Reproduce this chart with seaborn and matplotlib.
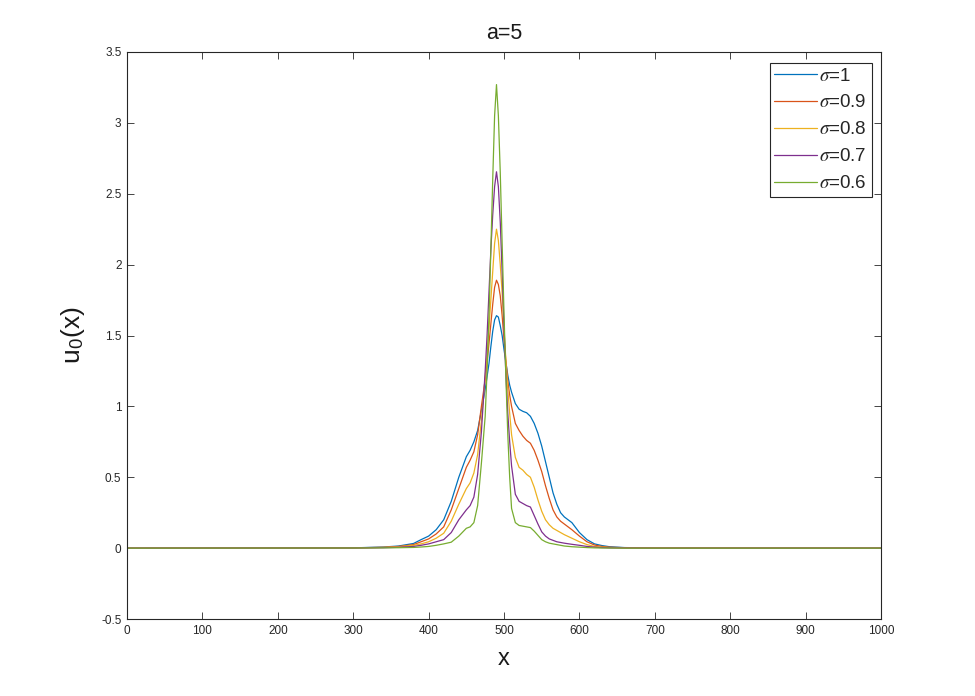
import matplotlib
matplotlib.use("Agg")
import matplotlib.pyplot as plt
import seaborn as sns
import pandas as pd

# ---- data ----
x_vals = [0, 300, 340, 360, 380, 390, 400, 410, 420, 430, 440, 450, 455, 460, 465,
          470, 475, 477.5, 480, 482.5, 485, 487.5, 490, 492.5, 495, 497.5, 500, 502.5,
          505, 507.5, 510, 515, 520, 525, 530, 535, 540,
          545, 550, 555, 560, 565, 570, 575, 580, 590, 600, 610, 620, 630, 640, 660,
          700, 1000]

u_s10 = [0, 0.002, 0.008, 0.015, 0.033, 0.06, 0.085, 0.13, 0.20, 0.33, 0.50, 0.645, 0.69, 0.75, 0.83,
         0.97, 1.12, 1.21, 1.30, 1.42, 1.53, 1.61, 1.64, 1.63, 1.57, 1.50, 1.40, 1.31,
         1.22, 1.15, 1.10, 1.02, 0.98, 0.965, 0.955, 0.93, 0.88,
         0.81, 0.72, 0.61, 0.50, 0.39, 0.31, 0.25, 0.22, 0.18, 0.11, 0.06, 0.03, 0.018, 0.01, 0.004,
         0.001, 0]
u_s09 = [0, 0.002, 0.006, 0.012, 0.025, 0.045, 0.065, 0.10, 0.15, 0.27, 0.42, 0.57, 0.62, 0.68, 0.80,
         1.00, 1.19, 1.31, 1.44, 1.58, 1.72, 1.84, 1.89, 1.86, 1.78, 1.64, 1.47, 1.32,
         1.18, 1.08, 1.00, 0.88, 0.83, 0.79, 0.76, 0.74, 0.69,
         0.62, 0.54, 0.44, 0.35, 0.27, 0.22, 0.19, 0.17, 0.13, 0.085, 0.045, 0.022, 0.012, 0.007, 0.003,
         0.001, 0]
u_s08 = [0, 0.001, 0.005, 0.01, 0.02, 0.03, 0.045, 0.07, 0.105, 0.19, 0.31, 0.42, 0.46, 0.53, 0.66,
         0.90, 1.20, 1.37, 1.55, 1.75, 1.95, 2.15, 2.25, 2.17, 2.00, 1.80, 1.55, 1.32,
         1.12, 0.95, 0.80, 0.64, 0.57, 0.55, 0.52, 0.50, 0.43,
         0.34, 0.26, 0.20, 0.165, 0.14, 0.125, 0.11, 0.095, 0.07, 0.045, 0.025, 0.012, 0.007, 0.004, 0.002,
         0.001, 0]
u_s07 = [0, 0.001, 0.003, 0.006, 0.012, 0.02, 0.03, 0.045, 0.06, 0.11, 0.20, 0.27, 0.30, 0.36, 0.52,
         0.82, 1.25, 1.50, 1.80, 2.10, 2.35, 2.55, 2.655, 2.55, 2.30, 1.95, 1.55, 1.22,
         0.95, 0.75, 0.58, 0.38, 0.33, 0.315, 0.30, 0.29, 0.23,
         0.17, 0.115, 0.085, 0.065, 0.055, 0.045, 0.04, 0.035, 0.027, 0.02, 0.012, 0.007, 0.004, 0.002, 0.001,
         0, 0]
u_s06 = [0, 0.001, 0.002, 0.003, 0.005, 0.008, 0.012, 0.02, 0.03, 0.042, 0.085, 0.14, 0.15, 0.18, 0.30,
         0.60, 0.93, 1.25, 1.63, 2.10, 2.60, 3.05, 3.27, 3.05, 2.65, 2.15, 1.65, 1.20,
         0.80, 0.50, 0.28, 0.18, 0.16, 0.155, 0.15, 0.145, 0.12,
         0.09, 0.06, 0.045, 0.035, 0.03, 0.025, 0.02, 0.015, 0.01, 0.007, 0.004, 0.002, 0.001, 0.001, 0,
         0, 0]

labels = [r"$\sigma$=1", r"$\sigma$=0.9", r"$\sigma$=0.8", r"$\sigma$=0.7", r"$\sigma$=0.6"]
series = [u_s10, u_s09, u_s08, u_s07, u_s06]
colors = ["#0072BD", "#D95319", "#EDB120", "#7E2F8E", "#77AC30"]

x_ticks = [0, 100, 200, 300, 400, 500, 600, 700, 800, 900, 1000]
y_ticks = [-0.5, 0, 0.5, 1, 1.5, 2, 2.5, 3, 3.5]

# ---- build long-form table ----
frames = []
for lab, vals in zip(labels, series):
    frames.append(pd.DataFrame({"x": x_vals, "u": vals, "sigma": lab}))
df = pd.concat(frames, ignore_index=True)

sns.set_theme(style="white")
plt.rcParams["font.family"] = ["Liberation Sans", "DejaVu Sans"]
plt.rcParams["mathtext.fontset"] = "stix"

fig = plt.figure(figsize=(9.75, 6.96), dpi=100)
ax = fig.add_axes([0.1303, 0.1106, 0.9036 - 0.1303, 0.9253 - 0.1106])

sns.lineplot(data=df, x="x", y="u", hue="sigma", hue_order=labels,
             palette=colors, estimator=None, sort=True, linewidth=0.9, ax=ax)

ax.set_xlim(0, 1000)
ax.set_ylim(-0.5, 3.5)
ax.set_xticks(x_ticks)
ax.set_xticklabels([str(t) for t in x_ticks])
ax.set_yticks(y_ticks)
ax.set_yticklabels(["-0.5", "0", "0.5", "1", "1.5", "2", "2.5", "3", "3.5"])
ax.tick_params(direction="in", length=5, width=0.6, colors="#262626",
               labelsize=8.5, top=True, right=True, bottom=True, left=True, pad=4)
for s in ax.spines.values():
    s.set_color("#262626")
    s.set_linewidth(0.8)

ax.set_title("a=5", fontsize=15.5, color="#1a1a1a", pad=9)
ax.set_xlabel("x", fontsize=17, color="#1a1a1a", labelpad=8)
ax.set_ylabel(r"u$_{\mathregular{0}}$(x)", fontsize=19, color="#1a1a1a", labelpad=10)

leg = ax.legend(loc="upper right", bbox_to_anchor=(0.9875, 0.981), fontsize=13.5,
                frameon=True, fancybox=False, framealpha=1, edgecolor="#262626",
                handlelength=2.3, handletextpad=0.1, labelspacing=0.52,
                borderpad=0.25, borderaxespad=0.0, title=None)
leg.get_frame().set_linewidth(0.8)

fig.savefig("out.png", dpi=100, facecolor="white")
